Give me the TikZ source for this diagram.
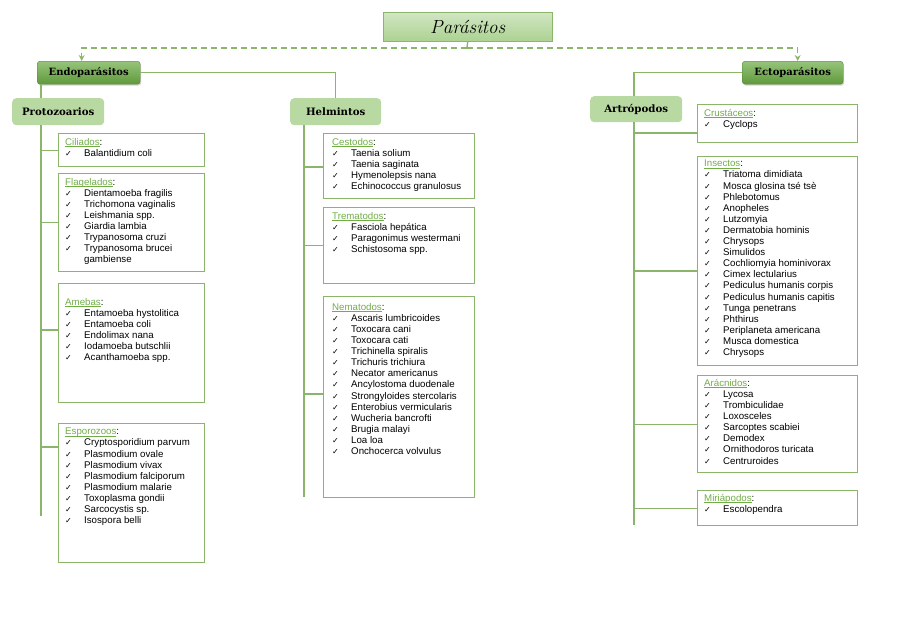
\documentclass[tikz,border=0pt]{standalone}
\usepackage{fontspec}
\usepackage{xcolor}
\usepackage{tikz}
\usetikzlibrary{arrows.meta,positioning,shadows}
\newfontfamily\listfont{Liberation Sans}
\newfontfamily\cabfont{DejaVu Serif}
\newfontfamily\symfont{DejaVu Sans}
\definecolor{ParaLine}{HTML}{8AB56B}
\definecolor{ParaText}{HTML}{70AD47}
\definecolor{ParaDark}{HTML}{6AAA42}
\definecolor{ParaLight}{HTML}{B9D9A2}
\definecolor{ParaTitle}{HTML}{ACD292}
\newcommand{\chk}{\makebox[19pt][l]{{\symfont\fontsize{8}{9}\selectfont ✓}}}
\newcommand{\itm}[1]{\chk #1}
\newcommand{\cab}[1]{{\color{ParaText}\setbox0\hbox{#1}\rlap{\rule[-1.4pt]{\wd0}{0.6pt}}\box0}:}
\tikzset{
  x=1pt, y=-1pt,
  title/.style={draw=ParaLine, top color=ParaTitle!55, bottom color=ParaTitle,
                minimum width=169pt, minimum height=29pt, inner sep=0,
                anchor=north west, font=\itshape\fontsize{19}{21}\selectfont},
  group/.style={draw=ParaDark!80!black, rounded corners=3pt, top color=ParaDark!70,
                bottom color=ParaDark!90!black, anchor=north west, inner sep=0,
                drop shadow={opacity=0.35, shadow xshift=1pt, shadow yshift=-1.5pt},
                minimum width=103pt, minimum height=23pt,
                font=\cabfont\bfseries\fontsize{10}{12}\selectfont},
  phylum/.style={rounded corners=4pt, fill=ParaLight, anchor=north west, inner sep=0,
                 minimum width=92pt, minimum height=27pt,
                 font=\cabfont\bfseries\fontsize{10.2}{12}\selectfont},
  listbox/.style={draw=ParaLine, line width=1.4pt, anchor=north west, inner sep=0},
  listtext/.style={anchor=north west, inner sep=0, align=left,
                   font=\listfont\fontsize{9.7}{11.1}\selectfont},
  link/.style={draw=ParaLine, line width=1.4pt},
  dashlink/.style={link, dashed, dash pattern=on 6pt off 4pt,
                   -{Stealth[length=6pt,width=6pt]}}
}
\begin{document}
\begin{tikzpicture}
  \useasboundingbox (0,0) rectangle (905,640);
  % top levels
  \node[title] (titulo) at (383,12) {Parásitos};
  \node[group] (endo) at (37,61) {Endoparásitos};
  \node[group, minimum width=101pt] (ecto) at (742,61) {Ectoparásitos};
  \node[phylum] (prot) at (12,98) {Protozoarios};
  \node[phylum, minimum width=91pt] (helm) at (290,98) {Helmintos};
  \node[phylum, minimum height=26pt] (artr) at (590,96) {Artrópodos};

  % Protozoarios
  \node[listbox, minimum width=146pt, minimum height=33pt] (cil) at (58,133) {};
  \node[listtext] (cilT) at ([shift={(7pt,-5pt)}]cil.north west)
    {\cab{Ciliados}\\\itm{Balantidium coli}};
  \node[listbox, minimum width=146pt, minimum height=98pt] (fla) at (58,173) {};
  \node[listtext] (flaT) at ([shift={(7pt,-5pt)}]fla.north west)
    {\cab{Flagelados}\\\itm{Dientamoeba fragilis}\\\itm{Trichomona vaginalis}\\
     \itm{Leishmania spp.}\\\itm{Giardia lambia}\\\itm{Trypanosoma cruzi}\\
     \itm{Trypanosoma brucei}\\\hspace*{19pt}gambiense};
  \node[listbox, minimum width=146pt, minimum height=119pt] (ame) at (58,283) {};
  \node[listtext] (ameT) at ([shift={(7pt,-15pt)}]ame.north west)
    {\cab{Amebas}\\\itm{Entamoeba hystolitica}\\\itm{Entamoeba coli}\\
     \itm{Endolimax nana}\\\itm{Iodamoeba butschlii}\\\itm{Acanthamoeba spp.}};
  \node[listbox, minimum width=146pt, minimum height=139pt] (esp) at (58,423) {};
  \node[listtext] (espT) at ([shift={(7pt,-5pt)}]esp.north west)
    {\cab{Esporozoos}\\\itm{Cryptosporidium parvum}\\\itm{Plasmodium ovale}\\
     \itm{Plasmodium vivax}\\\itm{Plasmodium falciporum}\\\itm{Plasmodium malarie}\\
     \itm{Toxoplasma gondii}\\\itm{Sarcocystis sp.}\\\itm{Isospora belli}};

  % Helmintos
  \node[listbox, minimum width=151pt, minimum height=65pt] (ces) at (323,133) {};
  \node[listtext] (cesT) at ([shift={(9pt,-5pt)}]ces.north west)
    {\cab{Cestodos}\\\itm{Taenia solium}\\\itm{Taenia saginata}\\
     \itm{Hymenolepsis nana}\\\itm{Echinococcus granulosus}};
  \node[listbox, minimum width=151pt, minimum height=76pt] (tre) at (323,207) {};
  \node[listtext] (treT) at ([shift={(9pt,-5pt)}]tre.north west)
    {\cab{Trematodos}\\\itm{Fasciola hepática}\\\itm{Paragonimus westermani}\\
     \itm{Schistosoma spp.}};
  \node[listbox, minimum width=151pt, minimum height=201pt] (nem) at (323,296) {};
  \node[listtext] (nemT) at ([shift={(9pt,-7pt)}]nem.north west)
    {\cab{Nematodos}\\\itm{Ascaris lumbricoides}\\\itm{Toxocara cani}\\
     \itm{Toxocara cati}\\\itm{Trichinella spiralis}\\\itm{Trichuris trichiura}\\
     \itm{Necator americanus}\\\itm{Ancylostoma duodenale}\\
     \itm{Strongyloides stercolaris}\\\itm{Enterobius vermicularis}\\
     \itm{Wucheria bancrofti}\\\itm{Brugia malayi}\\\itm{Loa loa}\\
     \itm{Onchocerca volvulus}};

  % Artropodos
  \node[listbox, minimum width=160pt, minimum height=38pt] (cru) at (697,104) {};
  \node[listtext] (cruT) at ([shift={(7pt,-5pt)}]cru.north west)
    {\cab{Crustáceos}\\\itm{Cyclops}};
  \node[listbox, minimum width=160pt, minimum height=209pt] (ins) at (697,156) {};
  \node[listtext] (insT) at ([shift={(7pt,-4pt)}]ins.north west)
    {\cab{Insectos}\\\itm{Triatoma dimidiata}\\\itm{Mosca glosina tsé tsè}\\
     \itm{Phlebotomus}\\\itm{Anopheles}\\\itm{Lutzomyia}\\\itm{Dermatobia hominis}\\
     \itm{Chrysops}\\\itm{Simulidos}\\\itm{Cochliomyia hominivorax}\\
     \itm{Cimex lectularius}\\\itm{Pediculus humanis corpis}\\
     \itm{Pediculus humanis capitis}\\\itm{Tunga penetrans}\\\itm{Phthirus}\\
     \itm{Periplaneta americana}\\\itm{Musca domestica}\\\itm{Chrysops}};
  \node[listbox, minimum width=160pt, minimum height=97pt] (ara) at (697,375) {};
  \node[listtext] (araT) at ([shift={(7pt,-4pt)}]ara.north west)
    {\cab{Arácnidos}\\\itm{Lycosa}\\\itm{Trombiculidae}\\\itm{Loxosceles}\\
     \itm{Sarcoptes scabiei}\\\itm{Demodex}\\\itm{Ornithodoros turicata}\\
     \itm{Centruroides}};
  \node[listbox, minimum width=160pt, minimum height=35pt] (mir) at (697,490) {};
  \node[listtext] (mirT) at ([shift={(7pt,-4pt)}]mir.north west)
    {\cab{Miriápodos}\\\itm{Escolopendra}};

  % connectors
  \coordinate (cruce) at (467,48);
  \coordinate (pFin) at (41,516);
  \coordinate (hFin) at (304,497);
  \coordinate (aFin) at (634,525);
  \draw[link] (titulo.south) -- (cruce);
  \draw[dashlink] (cruce) -| ([xshift=-7pt]endo.north);
  \draw[dashlink] (cruce) -| ([xshift=5pt]ecto.north);
  \draw[link] (endo.south -| pFin) -- (prot.north -| pFin);
  \draw[link] (prot.south -| pFin) -- (pFin);
  \draw[link] (endo.east) -| (helm.north);
  \draw[link] (helm.south -| hFin) -- (hFin);
  \draw[link] (ecto.west) -| (artr.north -| aFin);
  \draw[link] (artr.south -| aFin) -- (aFin);
  \draw[link] (pFin |- cil.west) -- (cil.west);
  \draw[link] (pFin |- fla.west) -- (fla.west);
  \draw[link] (pFin |- 0,330) -- (ame.west |- 0,330);
  \draw[link] (pFin |- 0,447) -- (esp.west |- 0,447);
  \draw[link] (hFin |- 0,167) -- (ces.west |- 0,167);
  \draw[link] (hFin |- tre.west) -- (tre.west);
  \draw[link] (hFin |- 0,394) -- (nem.west |- 0,394);
  \draw[link] (aFin |- 0,133) -- (cru.west |- 0,133);
  \draw[link] (aFin |- 0,271) -- (ins.west |- 0,271);
  \draw[link] (aFin |- ara.west) -- (ara.west);
  \draw[link] (aFin |- mir.west) -- (mir.west);
\end{tikzpicture}
\end{document}
